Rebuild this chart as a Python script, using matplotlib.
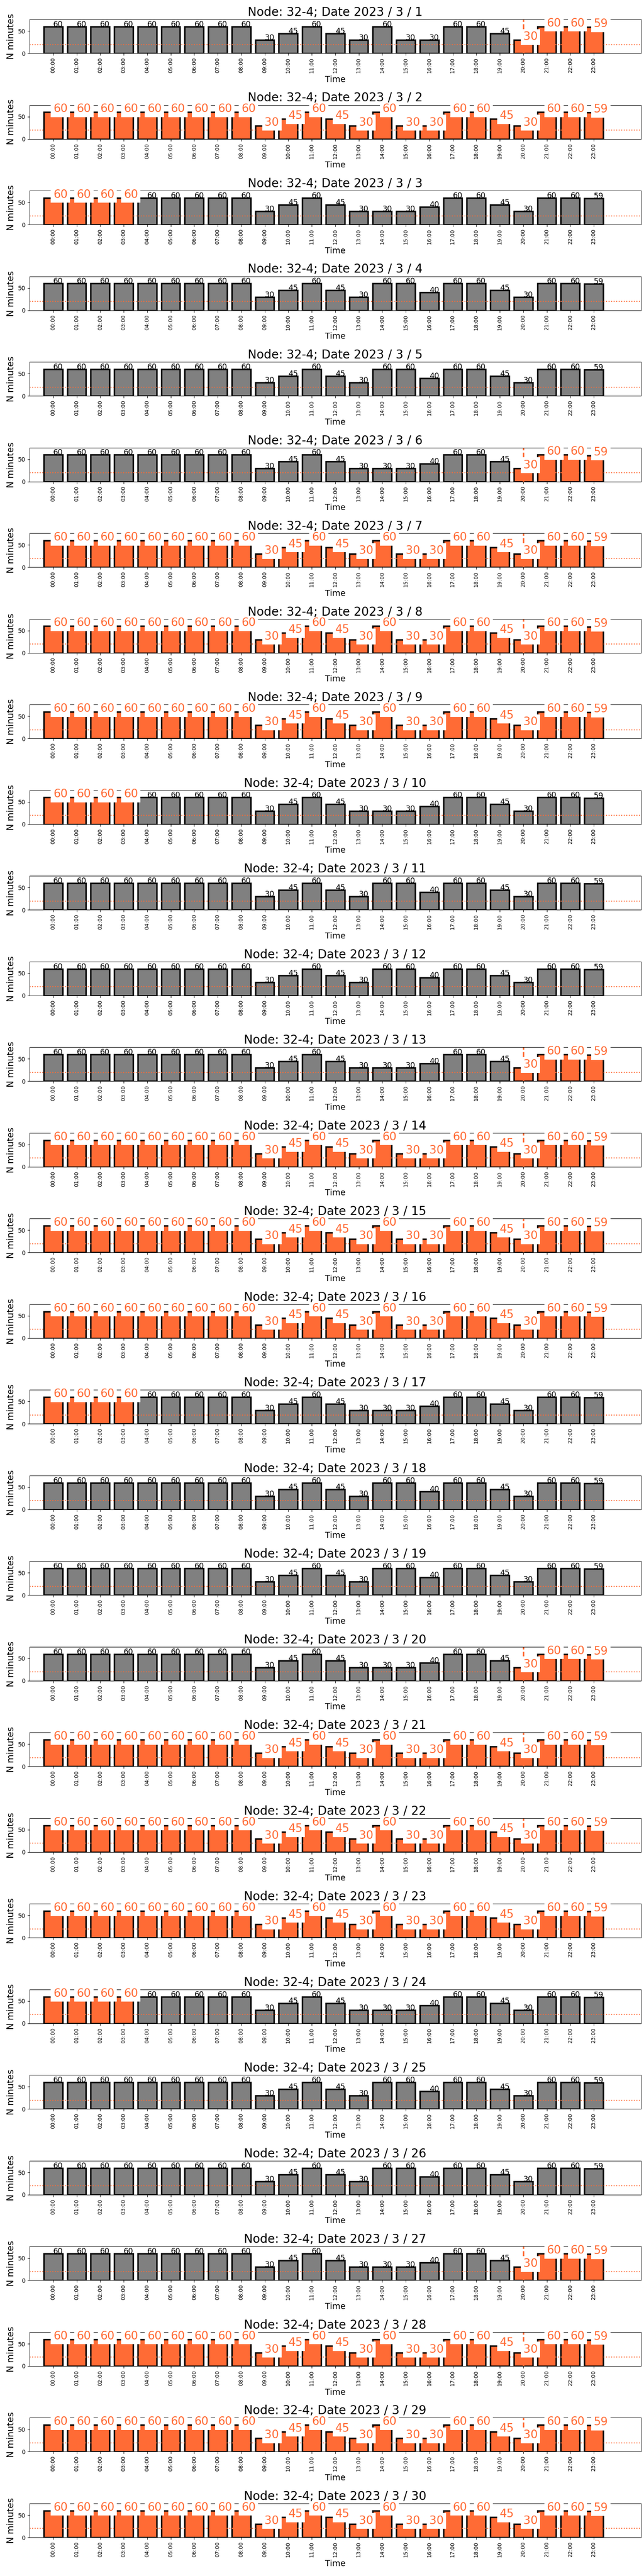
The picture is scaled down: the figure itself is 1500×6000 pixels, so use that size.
import matplotlib
matplotlib.use("Agg")
import matplotlib.pyplot as plt

# ---- data ----
HOURS = ["00:00", "01:00", "02:00", "03:00", "04:00", "05:00", "06:00", "07:00",
         "08:00", "09:00", "10:00", "11:00", "12:00", "13:00", "14:00", "15:00",
         "16:00", "17:00", "18:00", "19:00", "20:00", "21:00", "22:00", "23:00"]

PROFILE_A = [60, 60, 60, 60, 60, 60, 60, 60, 60, 30, 45, 60, 45, 30, 60, 60, 40, 60, 60, 45, 30, 60, 60, 59]
PROFILE_B = [60, 60, 60, 60, 60, 60, 60, 60, 60, 30, 45, 60, 45, 30, 30, 30, 40, 60, 60, 45, 30, 60, 60, 59]
PROFILE_C = [60, 60, 60, 60, 60, 60, 60, 60, 60, 30, 45, 60, 45, 30, 60, 30, 30, 60, 60, 45, 30, 60, 60, 59]
PROFILES = {"A": PROFILE_A, "B": PROFILE_B, "C": PROFILE_C}

DAYS = [1, 2, 3, 4, 5, 6, 7, 8, 9, 10, 11, 12, 13, 14, 15,
        16, 17, 18, 19, 20, 21, 22, 23, 24, 25, 26, 27, 28, 29, 30]
DAY_PROFILE = "CCBAABCCCBAABCCCBAABCCCBAABCCC"
DAY_HIGHLIGHT = ["late", "all", "early", "none", "none", "late", "all", "all", "all", "early",
                 "none", "none", "late", "all", "all", "all", "early", "none", "none", "late",
                 "all", "all", "all", "early", "none", "none", "late", "all", "all", "all"]
HIGHLIGHT_HOURS = {"none": [], "early": [0, 1, 2, 3], "late": [20, 21, 22, 23],
                   "all": [0, 1, 2, 3, 4, 5, 6, 7, 8, 9, 10, 11, 12, 13, 14, 15,
                           16, 17, 18, 19, 20, 21, 22, 23]}
MARKER_DAYS = [1, 6, 7, 8, 13, 14, 15, 20, 21, 22, 27, 28, 29]
MARKER_HOUR = 20
THRESHOLD = 20
NODE = "32-4"

ORANGE = "#FF6B35"
GRAY = "#808080"

plt.rcParams["font.family"] = ["DejaVu Sans"]

fig, axes = plt.subplots(len(DAYS), 1, figsize=(15, 60), dpi=100)
fig.subplots_adjust(left=0.046, right=0.995, top=0.99245, bottom=0.015, hspace=1.5255)

for i, ax in enumerate(axes):
    vals = PROFILES[DAY_PROFILE[i]]
    hl = set(HIGHLIGHT_HOURS[DAY_HIGHLIGHT[i]])
    xs = list(range(len(HOURS)))
    colors = [ORANGE if h in hl else GRAY for h in xs]
    ax.bar(xs, vals, width=0.8, color=colors, edgecolor="black", linewidth=2.5)
    ax.axhline(THRESHOLD, color=ORANGE, linestyle=":", linewidth=1.6)
    if DAYS[i] in MARKER_DAYS:
        ax.axvline(MARKER_HOUR, color=ORANGE, linestyle="--", linewidth=2.5)
    for h, v in zip(xs, vals):
        if h in hl:
            ax.text(h, v, str(v), color=ORANGE, fontsize=19,
                    bbox=dict(facecolor="white", edgecolor="none"))
        else:
            ax.text(h, v, str(v), color="black", fontsize=13)
    ax.set_xlim(-1, 25)
    ax.set_ylim(0, 76)
    ax.set_xticks(xs)
    ax.set_xticklabels(HOURS, rotation=90, fontsize=9)
    ax.set_yticks([0, 50])
    ax.tick_params(axis="y", labelsize=10)
    ax.set_ylabel("N minutes", fontsize=15)
    ax.set_xlabel("Time", fontsize=14)
    ax.set_title(f"Node: {NODE}; Date 2023 / 3 / {DAYS[i]}", fontsize=20)

fig.savefig("out.png", dpi=100)
